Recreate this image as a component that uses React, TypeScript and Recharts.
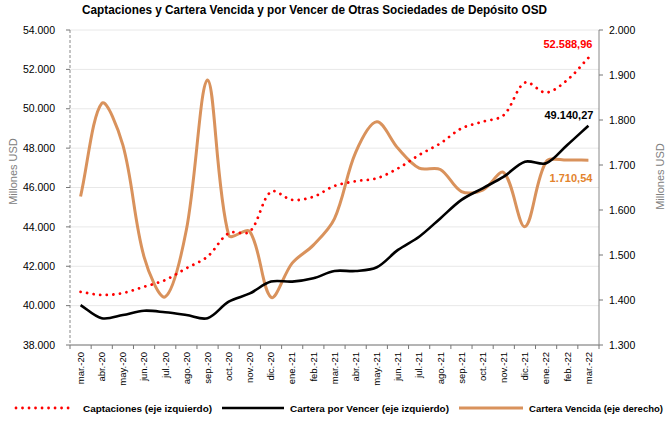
import React from 'react';
import { LineChart, Line, XAxis, YAxis, CartesianGrid, LabelList } from 'recharts';

const months = ['mar.-20','abr.-20','may.-20','jun.-20','jul.-20','ago.-20','sep.-20','oct.-20','nov.-20','dic.-20','ene.-21','feb.-21','mar.-21','abr.-21','may.-21','jun.-21','jul.-21','ago.-21','sep.-21','oct.-21','nov.-21','dic.-21','ene.-22','feb.-22','mar.-22'];

const captaciones = [40700, 40540, 40640, 40960, 41300, 41900, 42490, 43680, 43760, 45790, 45370, 45530, 46080, 46320, 46470, 46970, 47650, 48240, 49000, 49340, 49680, 51330, 50820, 51460, 52588.96];

const porVencer = [40030, 39360, 39520, 39740, 39660, 39520, 39360, 40200, 40620, 41220, 41220, 41390, 41760, 41760, 41950, 42830, 43500, 44430, 45370, 45960, 46550, 47310, 47230, 48160, 49140.27];

const vencida = [1630, 1837, 1744, 1496, 1407, 1556, 1889, 1544, 1552, 1406, 1482, 1522, 1581, 1728, 1796, 1737, 1693, 1690, 1641, 1644, 1683, 1563, 1707, 1711, 1710.54];

const leftTicks = [38000, 40000, 42000, 44000, 46000, 48000, 50000, 52000, 54000];
const rightTicks = [1300, 1400, 1500, 1600, 1700, 1800, 1900, 2000];

const title = 'Captaciones y Cartera Vencida y por Vencer de Otras Sociedades de Depósito OSD';
const legendItems = ['Captaciones (eje izquierdo)', 'Cartera por Vencer (eje izquierdo)', 'Cartera Vencida (eje derecho)'];

const data = months.map((m, i) => ({ m, cap: captaciones[i], pv: porVencer[i], v: vencida[i] }));

const W = 669;
const H = 423;
const PLOT_LEFT = 70;
const PLOT_RIGHT = 599;
const BAND = (PLOT_RIGHT - PLOT_LEFT) / months.length;

const RED = '#ff0000';
const BLACK = '#000000';
const ORANGE = '#d9925c';
const ORANGE_LABEL = '#e3832d';
const FONT = "'Liberation Sans', Arial, sans-serif";
const NARROW = "'Liberation Sans Narrow', 'Arial Narrow', 'Liberation Sans', Arial, sans-serif";

const fmt = (n: number, dec = 0) => {
  const fixed = n.toFixed(dec);
  const [intPart, decPart] = fixed.split('.');
  const withSep = intPart.replace(/\B(?=(\d{3})+(?!\d))/g, '.');
  return decPart ? withSep + ',' + decPart : withSep;
};

// Excel-like smoothed line: bezier with tangents weighted by segment lengths
const smoothCurve = (context: any) => {
  let pts: number[][] = [];
  const dist = (a: number[], b: number[]) => Math.hypot(b[0] - a[0], b[1] - a[1]);
  return {
    areaStart() {},
    areaEnd() {},
    lineStart() { pts = []; },
    point(x: number, y: number) { pts.push([+x, +y]); },
    lineEnd() {
      if (!pts.length) return;
      context.moveTo(pts[0][0], pts[0][1]);
      const k = 1 / 3;
      for (let i = 0; i < pts.length - 1; i++) {
        const p0 = pts[i - 1] || pts[i];
        const p1 = pts[i];
        const p2 = pts[i + 1];
        const p3 = pts[i + 2] || pts[i + 1];
        const d0 = dist(p0, p1);
        const d1 = dist(p1, p2);
        const d2 = dist(p2, p3);
        const f1 = d0 + d1 > 0 ? (k * d1) / (d0 + d1) : 0;
        const f2 = d1 + d2 > 0 ? (k * d1) / (d1 + d2) : 0;
        const c1x = p1[0] + (p2[0] - p0[0]) * f1;
        const c1y = p1[1] + (p2[1] - p0[1]) * f1;
        const c2x = p2[0] - (p3[0] - p1[0]) * f2;
        const c2y = p2[1] - (p3[1] - p1[1]) * f2;
        context.bezierCurveTo(c1x, c1y, c2x, c2y, p2[0], p2[1]);
      }
    },
  };
};

const XTick = (props: any) => {
  const { x, y, payload } = props;
  const isLast = payload && payload.index === months.length - 1;
  return (
    <g>
      <line x1={x - BAND / 2} x2={x - BAND / 2} y1={y} y2={y + 4} stroke="#777" />
      {isLast && <line x1={x + BAND / 2} x2={x + BAND / 2} y1={y} y2={y + 4} stroke="#777" />}
      <text
        x={x}
        y={y + 7}
        dy="0.35em"
        transform={`rotate(-90, ${x}, ${y + 7})`}
        textAnchor="end"
        fontSize={9.5}
        fontFamily={NARROW}
        fill="#000"
      >
        {payload.value}
      </text>
    </g>
  );
};

const lastLabel = (color: string, dx: number, dy: number, decimals: number) => (props: any) => {
  const { x, y, value, index } = props;
  if (index !== months.length - 1) return null;
  return (
    <text x={x + dx} y={y + dy} textAnchor="end" dominantBaseline="central" fontSize={11} fontWeight="bold" fontFamily={NARROW} fill={color}>
      {fmt(value, decimals)}
    </text>
  );
};

const axisTitle = (side: 'left' | 'right') => (props: any) => {
  const vb = props.viewBox || {};
  const cx = side === 'left' ? vb.x + 13 : vb.x + vb.width - 9;
  const cy = vb.y + vb.height / 2 - (side === 'left' ? 16 : 11);
  return (
    <text x={cx} y={cy} transform={`rotate(-90, ${cx}, ${cy})`} textAnchor="middle" dominantBaseline="central" fontSize={11} fontFamily={FONT} fill="#808080">
      Millones USD
    </text>
  );
};

export default function App() {
  return (
    <div style={{ position: 'absolute', left: 0, top: 0, width: W, height: H, background: '#fff' }}>
      <LineChart width={W} height={H} data={data} margin={{ top: 30, right: 0, bottom: 28, left: 0 }}>
        <CartesianGrid yAxisId="left" horizontal vertical={false} stroke="#e8e8e8" />
        <XAxis
          dataKey="m"
          interval={0}
          height={50}
          tickSize={0}
          tickMargin={0}
          tick={<XTick />}
          axisLine={{ stroke: '#777' }}
          padding={{ left: BAND / 2, right: BAND / 2 }}
        />
        <YAxis
          yAxisId="left"
          orientation="left"
          width={70}
          domain={[38000, 54000]}
          ticks={leftTicks}
          interval={0}
          tickFormatter={(v: number) => fmt(v)}
          tick={{ fontSize: 10.5, fill: '#000', fontFamily: FONT }}
          tickSize={4}
          tickMargin={11}
          tickLine={{ stroke: '#777' }}
          axisLine={{ stroke: '#888', strokeDasharray: '3 2' }}
          label={{ content: axisTitle('left') }}
        />
        <YAxis
          yAxisId="right"
          orientation="right"
          width={70}
          domain={[1300, 2000]}
          ticks={rightTicks}
          interval={0}
          tickFormatter={(v: number) => fmt(v)}
          tick={{ fontSize: 10.5, fill: '#000', fontFamily: FONT, textAnchor: 'start' }}
          tickSize={4}
          tickMargin={6}
          tickLine={{ stroke: '#777' }}
          axisLine={{ stroke: '#888' }}
          label={{ content: axisTitle('right') }}
        />
        <Line
          yAxisId="right"
          dataKey="v"
          type={smoothCurve as any}
          stroke={ORANGE}
          strokeWidth={3}
          dot={false}
          isAnimationActive={false}
        >
          <LabelList dataKey="v" content={lastLabel(ORANGE_LABEL, 4, 18, 2)} />
        </Line>
        <Line
          yAxisId="left"
          dataKey="pv"
          type={smoothCurve as any}
          stroke={BLACK}
          strokeWidth={2.6}
          dot={false}
          isAnimationActive={false}
        >
          <LabelList dataKey="pv" content={lastLabel(BLACK, 5, -11, 2)} />
        </Line>
        <Line
          yAxisId="left"
          dataKey="cap"
          type={smoothCurve as any}
          stroke={RED}
          strokeWidth={2.8}
          strokeDasharray="0.01 6.6"
          strokeLinecap="round"
          dot={false}
          isAnimationActive={false}
        >
          <LabelList dataKey="cap" content={lastLabel(RED, 4, -14, 2)} />
        </Line>
      </LineChart>
      <svg width={W} height={H} style={{ position: 'absolute', left: 0, top: 0, pointerEvents: 'none' }}>
        <text x={82} y={14} fontSize={12.5} fontWeight="bold" fontFamily={NARROW} fill="#000" textLength={465} lengthAdjust="spacingAndGlyphs">
          {title}
        </text>
        <line x1={16} x2={74} y1={408} y2={408} stroke={RED} strokeWidth={2.8} strokeDasharray="0.01 6.5" strokeLinecap="round" />
        <text x={83} y={412} fontSize={9.6} fontWeight="bold" fontFamily={NARROW} fill="#000" textLength={129} lengthAdjust="spacingAndGlyphs">
          {legendItems[0]}
        </text>
        <line x1={222} x2={284} y1={408} y2={408} stroke={BLACK} strokeWidth={2.6} />
        <text x={290} y={412} fontSize={9.6} fontWeight="bold" fontFamily={NARROW} fill="#000" textLength={159} lengthAdjust="spacingAndGlyphs">
          {legendItems[1]}
        </text>
        <line x1={459} x2={523} y1={408} y2={408} stroke={ORANGE} strokeWidth={3} />
        <text x={529} y={412} fontSize={9.6} fontWeight="bold" fontFamily={NARROW} fill="#000" textLength={134} lengthAdjust="spacingAndGlyphs">
          {legendItems[2]}
        </text>
      </svg>
    </div>
  );
}
